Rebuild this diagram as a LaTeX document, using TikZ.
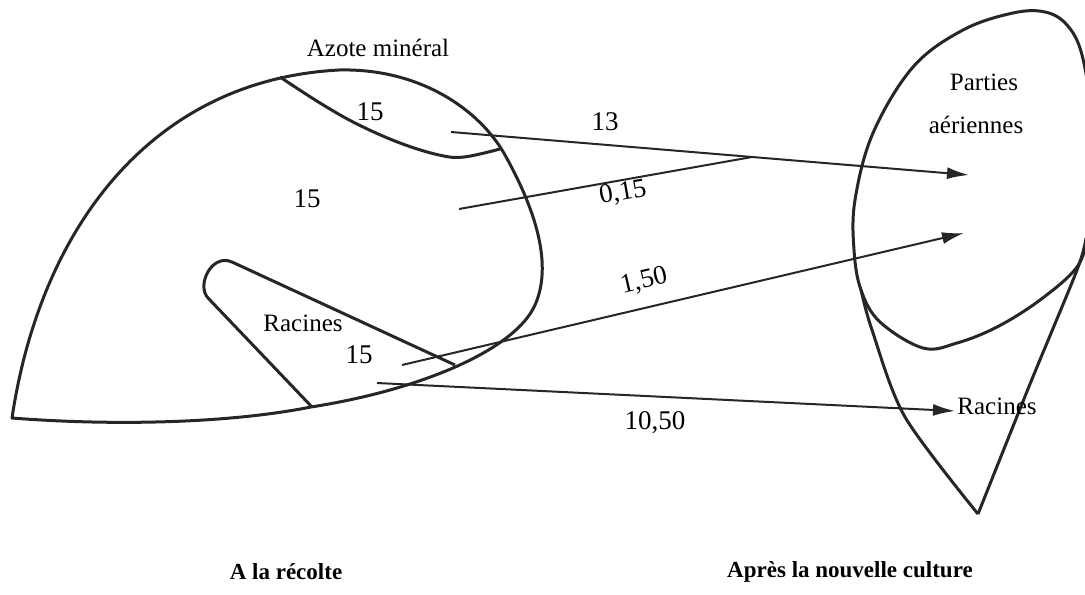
\documentclass[tikz,border=0pt]{standalone}
\usepackage{fontspec}
\setmainfont{Liberation Serif}
\usetikzlibrary{arrows.meta}

\begin{document}
\begin{tikzpicture}[x={(0.5pt,0pt)}, y={(0pt,-0.5pt)},
  every node/.style={font=\fontsize{12.5}{14}\selectfont, inner sep=1pt},
  value/.style={font=\fontsize{13.5}{15}\selectfont},
  outline/.style={line width=1.5pt, line join=round, black!85},
  flow/.style={line width=1pt, black!85, -{Latex[length=11pt,width=6pt]}},
  caption/.style={font=\fontsize{11.5}{14}\selectfont\bfseries}]
  \clip (0,0) rectangle (1085,594);

  % Sol a la recolte
  \draw[outline] (12,418) .. controls (40,230) and (150,80) .. (339,70)
    .. controls (420,68) and (480,110) .. (505,155)
    .. controls (530,200) and (555,260) .. (535,305)
    .. controls (515,350) and (420,390) .. (311,407)
    .. controls (220,425) and (100,425) .. (12,418) -- cycle;
  % Azote mineral
  \draw[outline] plot[smooth, tension=0.6] coordinates {(280,77) (320,103) (357,124) (400,143)
    (439,155) (464,157) (500,149)};
  % Racines
  \draw[outline] (312,407) -- (208,298) .. controls (196,285) and (212,253) .. (232,262) -- (455,365);

  % Apres la nouvelle culture
  \draw[outline] plot[smooth cycle, tension=0.6] coordinates {(1077,267) (1040,300) (997,327)
    (957,343) (923,348) (880,322) (861,290) (854,250) (855,200) (873,133) (913,67) (963,30)
    (1013,13) (1045,12) (1067,25) (1082,55) (1092,120) (1092,190) (1087,235)};
  \draw[outline] plot[smooth, tension=0.5] coordinates {(861,290) (872,330) (905,417) (978,514)};
  \draw[outline] plot[smooth, tension=0.5] coordinates {(978,514) (1030,384) (1077,270) (1086,238)};

  % Points de depart et d'arrivee
  \coordinate (azote src) at (451,132);
  \coordinate (sol src) at (459,209);
  \coordinate (merge) at (752,157);
  \coordinate (rac src1) at (402,365);
  \coordinate (rac src2) at (377,383);
  \coordinate (aer dst1) at (969,175);
  \coordinate (aer dst2) at (964,233);
  \coordinate (rac dst) at (955,411);

  % Flux
  \draw[flow] (azote src) -- (aer dst1);
  \draw[line width=1pt, black!85] (sol src) -- (merge);
  \draw[flow] (rac src1) -- (aer dst2);
  \draw[flow] (rac src2) -- (rac dst);

  % Textes
  \node (azote) at (378,48) {Azote minéral};
  \node[value] (n azote) at (370,112) {15};
  \node[value] (n sol) at (307,199) {15};
  \node (racines) at (303,323) {Racines};
  \node[value] (n racines) at (359,355) {15};
  \node[value] (v13) at (605,122) {13};
  \node[value, rotate=10] (v015) at (623,193) {0,15};
  \node[value, rotate=13] (v150) at (644,281) {1,50};
  \node[value] (v1050) at (655,423) {10,50};
  \node (parties) at (984,82) {Parties};
  \node (aeriennes) at (976,125) {aériennes};
  \node (racines2) at (997,406) {Racines};
  \node[caption] (recolte) at (286,572) {A la récolte};
  \node[caption] (apres) at (850,572) {Après la nouvelle culture};
\end{tikzpicture}
\end{document}
